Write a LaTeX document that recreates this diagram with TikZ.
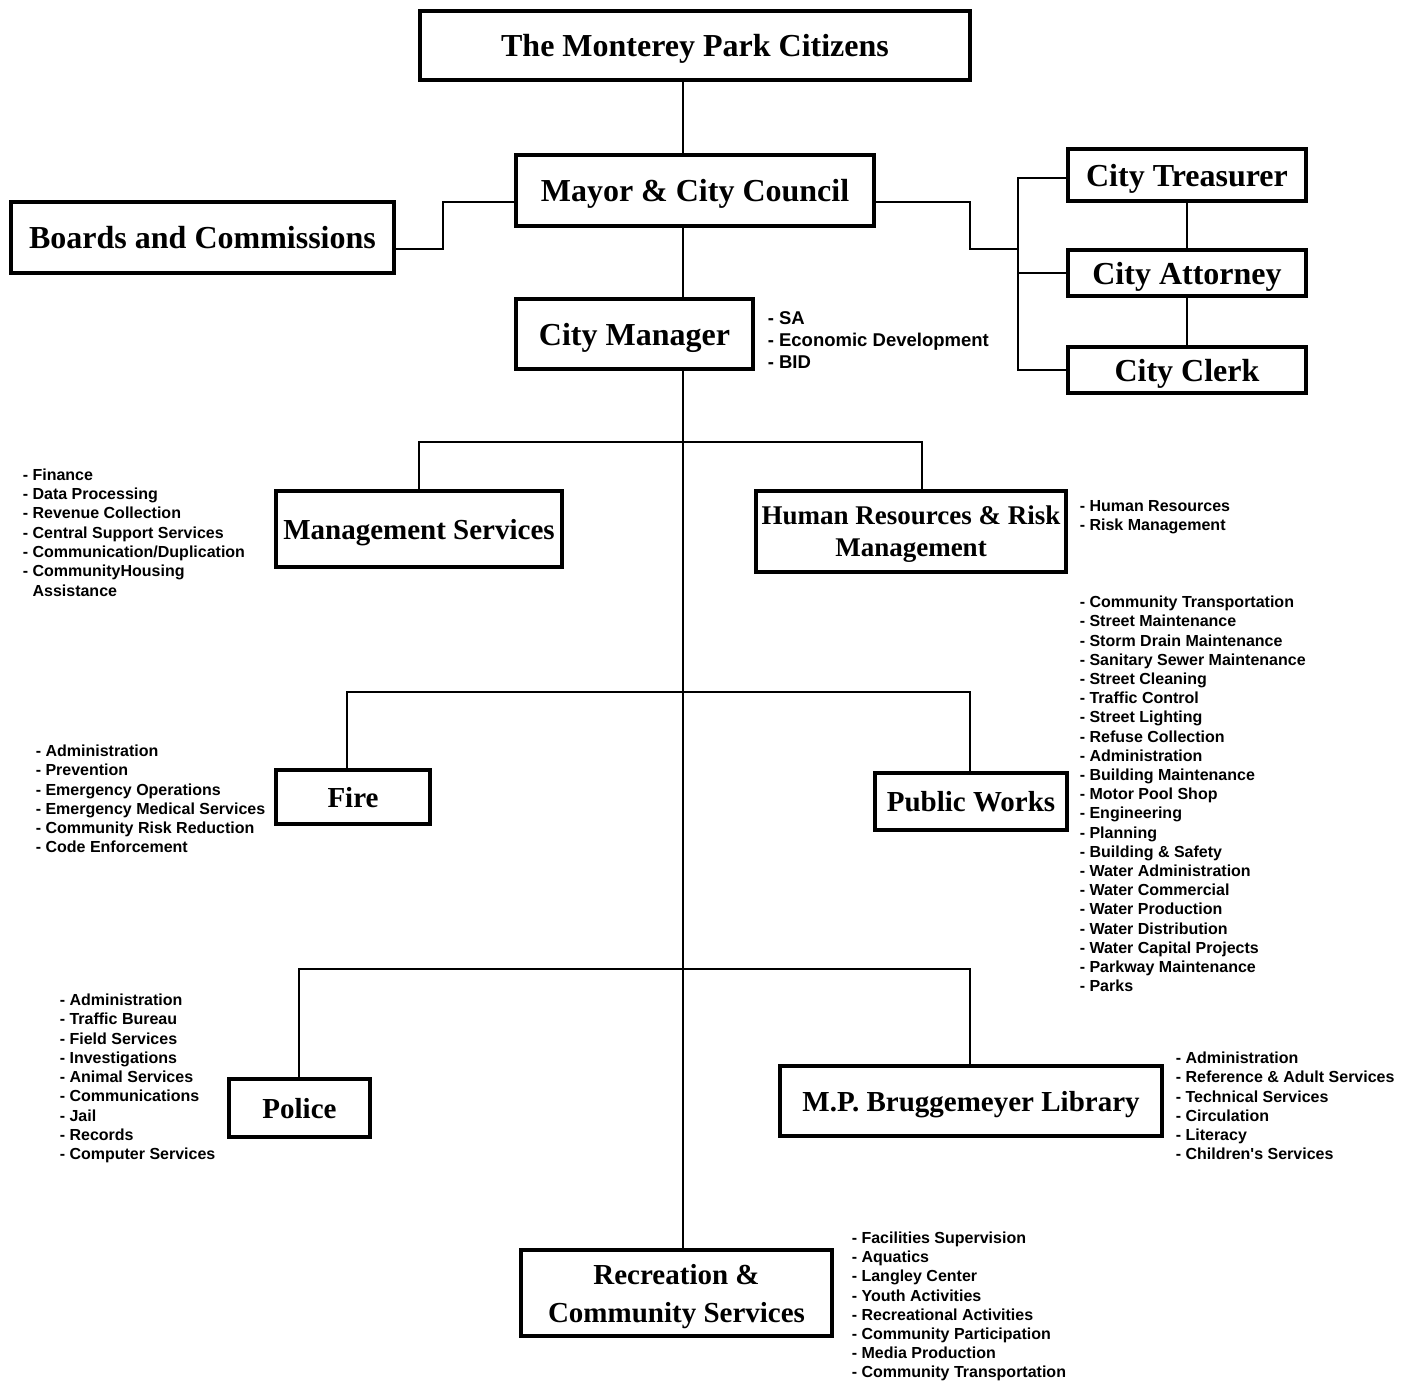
\documentclass[tikz,border=0pt]{standalone}
\usepackage{fontspec}
\setmainfont{Liberation Serif}
\setsansfont{Liberation Sans}
\usepackage{tikz}
\tikzset{orgChart/.style={x=1pt,y=-1pt,line width=1.6pt},
         unit/.style={draw,line width=4pt,inner sep=0pt,text depth=0pt,
                      font=\bfseries\fontsize{32}{38}\selectfont},
         dept/.style={unit,font=\bfseries\fontsize{29}{35}\selectfont},
         duties/.style={anchor=base west,inner sep=0pt,align=left,
                        font=\sffamily\bfseries\fontsize{16}{19.25}\selectfont}}

\begin{document}
\begin{tikzpicture}[orgChart]
    \useasboundingbox (0,0) rectangle (1409,1382);
    %COUNCIL
    \node [unit, minimum width=550pt, minimum height=69pt] (citizens) at (695,45.5) {The Monterey Park Citizens};
    \node [unit, minimum width=358pt, minimum height=71pt] (mayor) at (695,190.5) {Mayor \& City Council};
    \node [unit, minimum width=383pt, minimum height=71pt] (boards) at (202.5,237.5) {Boards and Commissions};
    \node [unit, minimum width=237pt, minimum height=70pt] (manager) at (634.5,334) {City Manager};
    \node [unit, minimum width=238pt, minimum height=52pt] (treasurer) at (1187,175) {City Treasurer};
    \node [unit, minimum width=238pt, minimum height=46pt] (attorney) at (1187,273) {City Attorney};
    \node [unit, minimum width=238pt, minimum height=46pt] (clerk) at (1187,370) {City Clerk};
    %DEPARTMENTS
    \node [dept, minimum width=286pt, minimum height=76pt] (mgmt) at (419,529) {Management Services};
    \node [unit, align=center, font=\bfseries\fontsize{27}{32}\selectfont,
           minimum width=310pt, minimum height=81pt] (hr) at (911,531.5) {Human Resources \& Risk\\Management};
    \node [dept, minimum width=154pt, minimum height=54pt] (fire) at (353,797) {Fire};
    \node [dept, minimum width=192pt, minimum height=57pt] (works) at (971,801.5) {Public Works};
    \node [dept, minimum width=141pt, minimum height=58pt] (police) at (299.5,1108) {Police};
    \node [dept, minimum width=382pt, minimum height=70pt] (library) at (971,1101) {M.P. Bruggemeyer Library};
    \node [unit, align=center, font=\bfseries\fontsize{29}{38}\selectfont,
           minimum width=311pt, minimum height=86pt] (recreation) at (676.5,1293) {Recreation \&\\Community Services};

    %DUTIES (placed at the baseline of the last line)
    \node [duties, font=\sffamily\bfseries\fontsize{18.5}{22}\selectfont] (managerList) at (767,368.6)
          {- SA\\- Economic Development\\- BID};
    \node [duties, font=\sffamily\bfseries\fontsize{16}{19.33}\selectfont] (mgmtList) at (22,596)
          {- Finance\\- Data Processing\\- Revenue Collection\\- Central Support Services\\
           - Communication/Duplication\\- CommunityHousing\\\hphantom{- }Assistance};
    \node [duties] (hrList) at (1079,530.9) {- Human Resources\\- Risk Management};
    \node [duties, font=\sffamily\bfseries\fontsize{16}{19.2}\selectfont] (worksList) at (1079,991.7)
          {- Community Transportation\\- Street Maintenance\\- Storm Drain Maintenance\\
           - Sanitary Sewer Maintenance\\- Street Cleaning\\- Traffic Control\\- Street Lighting\\
           - Refuse Collection\\- Administration\\- Building Maintenance\\- Motor Pool Shop\\
           - Engineering\\- Planning\\- Building \& Safety\\- Water Administration\\
           - Water Commercial\\- Water Production\\- Water Distribution\\- Water Capital Projects\\
           - Parkway Maintenance\\- Parks};
    \node [duties, font=\sffamily\bfseries\fontsize{16}{19.2}\selectfont] (fireList) at (35,852.7)
          {- Administration\\- Prevention\\- Emergency Operations\\- Emergency Medical Services\\
           - Community Risk Reduction\\- Code Enforcement};
    \node [duties] (policeList) at (59,1159.7)
          {- Administration\\- Traffic Bureau\\- Field Services\\- Investigations\\- Animal Services\\
           - Communications\\- Jail\\- Records\\- Computer Services};
    \node [duties, font=\sffamily\bfseries\fontsize{16}{19.2}\selectfont] (libraryList) at (1175,1159.7)
          {- Administration\\- Reference \& Adult Services\\- Technical Services\\- Circulation\\
           - Literacy\\- Children\textquotesingle s Services};
    \node [duties, font=\sffamily\bfseries\fontsize{16}{19.15}\selectfont] (recreationList) at (851,1377.7)
          {- Facilities Supervision\\- Aquatics\\- Langley Center\\- Youth Activities\\
           - Recreational Activities\\- Community Participation\\- Media Production\\
           - Community Transportation};

    %LINES
    \coordinate (spine) at (683,0);
    \draw (citizens.south -| spine) -- (mayor.north -| spine);
    \draw (mayor.south -| spine) -- (manager.north -| spine);
    \draw (manager.south -| spine) -- (recreation.north -| spine);

    \draw (boards.east |- 0,249) -| (443,202) -- (mayor.west |- 0,202);
    \draw (mayor.east |- 0,202) -| (970,249) -- (1018,249);
    \draw (treasurer.west |- 0,178) -| (clerk.west -| 1018,0) -- (clerk.west);
    \draw (attorney.west) -- (attorney.west -| 1018,0);
    \draw (treasurer) -- (attorney) -- (clerk);

    \foreach \ld/\rd/\y/\xl/\xr in {mgmt/hr/442/419/922, fire/works/692/347/970, police/library/969/299/970}
        \draw (\ld.north -| \xl,0) |- (\xr,\y) -- (\rd.north -| \xr,0);
\end{tikzpicture}
\end{document}
